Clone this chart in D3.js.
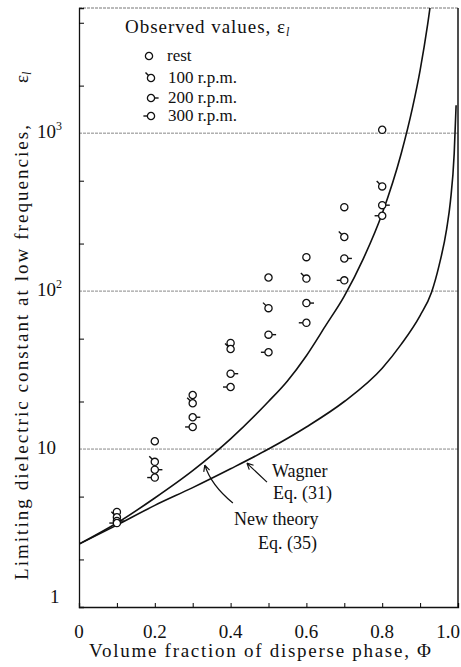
<!DOCTYPE html>
<html>
<head>
<meta charset="utf-8">
<script src="https://cdn.jsdelivr.net/npm/d3@7"></script>
<style>
body { margin: 0; background: #fff; }
text { font-family: "Liberation Serif", "DejaVu Serif", serif; fill: #111; }
</style>
</head>
<body>
<svg></svg>
<script>
var width = 461
var height = 667

var phiObs = [0.1, 0.2, 0.3, 0.4, 0.5, 0.6, 0.7, 0.8]
var epsRest = [4.0, 11.2, 22, 47, 122, 164, 340, 1050]
var eps100 = [3.7, 8.3, 19.5, 43, 78, 120, 220, 460]
var eps200 = [3.5, 7.4, 15.9, 30, 53, 84, 161, 350]
var eps300 = [3.4, 6.6, 13.8, 24.7, 41, 63, 117, 300]

// theory curves, points
var phiNew = [0, 0.1, 0.2, 0.3, 0.4, 0.5, 0.55, 0.6, 0.65, 0.7, 0.75, 0.8, 0.85, 0.88, 0.9, 0.92, 0.935]
var epsNew = [2.5, 3.4, 4.9, 7.3, 11.6, 20, 27, 39, 60, 93, 160, 310, 740, 1450, 2500, 4900, 9000]
var phiWag = [0, 0.1, 0.2, 0.3, 0.4, 0.5, 0.6, 0.7, 0.8, 0.85, 0.9, 0.93, 0.95, 0.97, 0.98, 0.99, 0.995]
var epsWag = [2.5, 3.3, 4.4, 5.7, 7.5, 10, 13.8, 20, 32.5, 46, 70, 98, 145, 247, 370, 745, 1500]

var xTicks = [0, 0.1, 0.2, 0.3, 0.4, 0.5, 0.6, 0.7, 0.8, 0.9, 1.0]
var xTickLabels = ["0", "0.2", "0.4", "0.6", "0.8", "1.0"]
var yGrid = [10, 100, 1000]
var yMinor = [2, 5, 20, 50, 200, 500, 2000, 5000]
var yLabels = [["1", ""], ["10", ""], ["10", "2"], ["10", "3"]]

var series = [
  {name: "rest", kind: "rest", vals: epsRest},
  {name: "100 r.p.m.", kind: "r100", vals: eps100},
  {name: "200 r.p.m.", kind: "r200", vals: eps200},
  {name: "300 r.p.m.", kind: "r300", vals: eps300}
]

var m = {left: 79, right: 3, top: 8, bottom: 60}

var x = d3.scaleLinear()
  .domain([0, 1])
  .range([m.left, width - m.right])

var y = d3.scaleLog()
  .domain([1, 6200])
  .range([height - m.bottom, m.top])

const svg = d3.select("svg")
  .attr("width", width)
  .attr("height", height)
  .attr("viewBox", [0, 0, width, height])

svg.append("defs").append("clipPath").attr("id", "plot")
  .append("rect")
  .attr("x", m.left).attr("y", m.top)
  .attr("width", width - m.left - m.right)
  .attr("height", height - m.top - m.bottom)

// grid lines at the decades
svg.append("g")
  .selectAll("line")
  .data(yGrid)
  .join("line")
  .attr("x1", m.left).attr("x2", width - m.right)
  .attr("y1", d => y(d)).attr("y2", d => y(d))
  .attr("stroke", "#888")
  .attr("stroke-width", 1)
  .attr("stroke-dasharray", "3,1")

// frame: top grey, right black
svg.append("line")
  .attr("x1", m.left).attr("x2", width - m.right)
  .attr("y1", m.top).attr("y2", m.top)
  .attr("stroke", "#777").attr("stroke-dasharray", "3,1")
svg.append("line")
  .attr("x1", width - m.right).attr("x2", width - m.right)
  .attr("y1", m.top).attr("y2", height - m.bottom)
  .attr("stroke", "#222").attr("stroke-width", 1.6)

// axes, ticks pointing inward
const gx = svg.append("g")
  .attr("transform", `translate(0,${height - m.bottom})`)
  .call(d3.axisTop(x).tickValues(xTicks).tickSize(4).tickFormat(""))
gx.select(".domain").attr("stroke", "#111").attr("stroke-width", 1.3)

const gy = svg.append("g")
  .attr("transform", `translate(${m.left},0)`)
  .call(d3.axisRight(y).tickValues(yMinor).tickSize(5).tickFormat(""))
gy.select(".domain").attr("stroke", "#111").attr("stroke-width", 1.3)

svg.append("g")
  .selectAll("text")
  .data(xTickLabels)
  .join("text")
  .attr("x", d => d == "1.0" ? width - 1 : x(+d))
  .attr("y", height - m.bottom + 31)
  .attr("text-anchor", d => d == "1.0" ? "end" : "middle")
  .attr("font-size", 19)
  .text(d => d)

const yl = svg.append("g")
  .selectAll("text")
  .data(yLabels)
  .join("text")
  .attr("x", d => d[0] == "1" ? 50 : 37)
  .attr("y", (d, i) => y(Math.pow(10, i)) + (i == 0 ? -4 : 5))
  .attr("font-size", 19)
yl.append("tspan").text(d => d[0])
yl.append("tspan").attr("dy", -8).attr("font-size", 12).text(d => d[1])

// axis titles
svg.append("text")
  .attr("x", 89)
  .attr("y", height - 10)
  .attr("font-size", 19)
  .attr("textLength", 342)
  .text("Volume fraction of disperse phase, \u03a6")

svg.append("text")
  .attr("transform", "translate(28,580) rotate(-90)")
  .attr("font-size", 19)
  .attr("textLength", 455)
  .text("Limiting dielectric constant at low frequencies,")
const ye = svg.append("text")
  .attr("transform", "translate(28,83) rotate(-90)")
  .attr("font-size", 19)
ye.append("tspan").text("\u03b5")
ye.append("tspan").attr("font-size", 12).attr("dy", 3).attr("font-style", "italic").text("l")

// theory curves
const line = d3.line()
  .x(d => x(d[0]))
  .y(d => y(d[1]))
  .curve(d3.curveMonotoneX)

const gc = svg.append("g").attr("clip-path", "url(#plot)")
gc.append("path")
  .datum(d3.zip(phiNew, epsNew))
  .attr("d", line)
  .attr("fill", "none").attr("stroke", "#111").attr("stroke-width", 1.6)
gc.append("path")
  .datum(d3.zip(phiWag, epsWag))
  .attr("d", line)
  .attr("fill", "none").attr("stroke", "#111").attr("stroke-width", 1.6)

// observed markers
var r = 3.6
function marker(g, kind) {
  g.append("circle").attr("r", r)
    .attr("fill", "#fff").attr("stroke", "#111").attr("stroke-width", 1.3)
  if (kind == "r100")
    g.append("line").attr("x1", -r * 0.7).attr("y1", -r * 0.7).attr("x2", -r * 0.7 - 3).attr("y2", -r * 0.7 - 3)
  if (kind == "r200")
    g.append("line").attr("x1", r).attr("y1", 0).attr("x2", r + 4).attr("y2", 0)
  if (kind == "r300")
    g.append("line").attr("x1", -r).attr("y1", 0).attr("x2", -r - 4).attr("y2", 0)
  g.selectAll("line").attr("stroke", "#111").attr("stroke-width", 1.4)
}

series.forEach(function(s) {
  svg.append("g")
    .selectAll("g")
    .data(d3.zip(phiObs, s.vals))
    .join("g")
    .attr("transform", d => `translate(${x(d[0])},${y(d[1])})`)
    .each(function() { marker(d3.select(this), s.kind) })
})

// legend
const lg = svg.append("g")
const lt = lg.append("text").attr("x", 125).attr("y", 33).attr("font-size", 19)
lt.append("tspan").attr("textLength", 160).text("Observed values, \u03b5")
lt.append("tspan").attr("font-size", 12).attr("dy", 3).attr("font-style", "italic").text("l")
var legY = [56, 78, 98, 116]
series.forEach(function(s, i) {
  marker(lg.append("g").attr("transform", `translate(${i == 0 ? 149 : 151},${legY[i]})`), s.kind)
  lg.append("text")
    .attr("x", i == 0 ? 167 : 168)
    .attr("y", legY[i] + 5)
    .attr("font-size", 17)
    .text(s.name)
})

// annotations with arrows (anchored in data units)
var arrows = [
  {from: [0.496, 6.18], ctrl: [0.462, 7.36], to: [0.443, 8.15]},
  {from: [0.406, 4.55], ctrl: [0.348, 5.92], to: [0.332, 7.92]}
]
arrows.forEach(function(a) {
  var p0 = [x(a.from[0]), y(a.from[1])]
  var pc = [x(a.ctrl[0]), y(a.ctrl[1])]
  var p1 = [x(a.to[0]), y(a.to[1])]
  var p = d3.path()
  p.moveTo(p0[0], p0[1])
  p.quadraticCurveTo(pc[0], pc[1], p1[0], p1[1])
  var ang = Math.atan2(p1[1] - pc[1], p1[0] - pc[0])
  ;[0.45, -0.45].forEach(function(da) {
    p.moveTo(p1[0], p1[1])
    p.lineTo(p1[0] - 7 * Math.cos(ang + da), p1[1] - 7 * Math.sin(ang + da))
  })
  svg.append("path").attr("d", p.toString())
    .attr("fill", "none").attr("stroke", "#111").attr("stroke-width", 1.2)
})

var notes = [
  {t: "Wagner", x: 272, y: 477},
  {t: "Eq. (31)", x: 273, y: 499},
  {t: "New theory", x: 234, y: 525},
  {t: "Eq. (35)", x: 258, y: 549}
]
svg.append("g")
  .selectAll("text")
  .data(notes)
  .join("text")
  .attr("x", d => d.x)
  .attr("y", d => d.y)
  .attr("font-size", 18)
  .text(d => d.t)
</script>
</body>
</html>
